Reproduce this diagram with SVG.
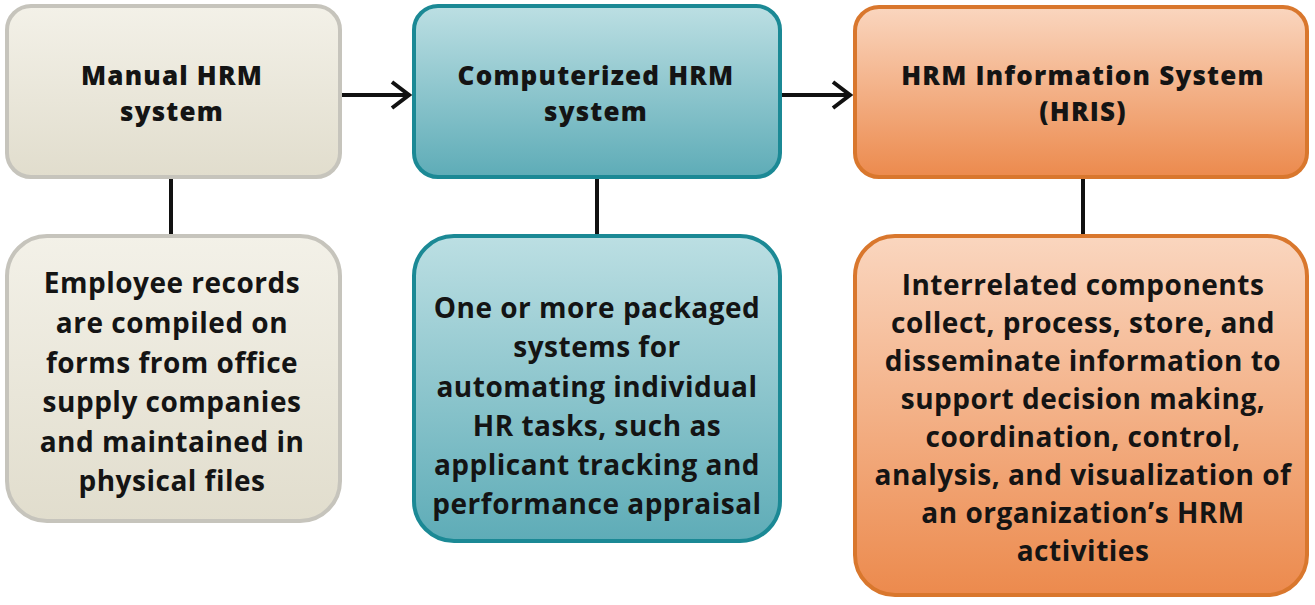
<svg xmlns="http://www.w3.org/2000/svg" width="1315" height="605" viewBox="0 0 1315 605">
<defs>
<linearGradient id="gBeige" x1="0" y1="0" x2="0" y2="1"><stop offset="0" stop-color="#f3f1e8"/><stop offset="1" stop-color="#e1ddcd"/></linearGradient>
<linearGradient id="gTeal" x1="0" y1="0" x2="0" y2="1"><stop offset="0" stop-color="#bcdfe3"/><stop offset="1" stop-color="#5eacb7"/></linearGradient>
<linearGradient id="gOrange" x1="0" y1="0" x2="0" y2="1"><stop offset="0" stop-color="#fad6bf"/><stop offset="1" stop-color="#ec8a4d"/></linearGradient>
<marker id="arrow" viewBox="0 0 22 30" refX="19" refY="15" markerWidth="22" markerHeight="30" markerUnits="userSpaceOnUse" orient="auto">
<path d="M2,2 L19,15 L2,28" fill="none" stroke="#111" stroke-width="4" stroke-linejoin="miter"/>
</marker>
</defs>
<style>
.beige{fill:url(#gBeige);stroke:#c6c4bc;stroke-width:4}
.teal{fill:url(#gTeal);stroke:#1b8995;stroke-width:4}
.orange{fill:url(#gOrange);stroke:#d9772d;stroke-width:4}
text{font-family:"Open Sans","Liberation Sans",sans-serif;font-weight:700;fill:#141414;text-anchor:middle;font-size:28px;letter-spacing:0.5px}
text.h{font-size:26px;font-weight:800;letter-spacing:1.2px}
.conn{stroke:#111;stroke-width:4;fill:none}
</style>
<g id="connectors">
<line class="conn" x1="342" y1="95" x2="409" y2="95" marker-end="url(#arrow)"/>
<line class="conn" x1="782" y1="95" x2="850" y2="95" marker-end="url(#arrow)"/>
<line class="conn" x1="171" y1="178" x2="171" y2="235"/>
<line class="conn" x1="597" y1="178" x2="597" y2="235"/>
<line class="conn" x1="1083" y1="178" x2="1083" y2="235"/>
</g>
<g id="manual">
<rect class="beige" x="7" y="6" width="333" height="171" rx="24"/>
<text class="h" x="172" y="85"><tspan x="172">Manual HRM</tspan><tspan x="172" dy="35.5">system</tspan></text>
</g>
<g id="computerized">
<rect class="teal" x="414" y="6" width="366" height="171" rx="24"/>
<text class="h" x="596" y="85"><tspan x="596">Computerized HRM</tspan><tspan x="596" dy="35.5">system</tspan></text>
</g>
<g id="hris">
<rect class="orange" x="855" y="7" width="452" height="170" rx="24"/>
<text class="h" x="1083" y="85"><tspan x="1083">HRM Information System</tspan><tspan x="1083" dy="35.5">(HRIS)</tspan></text>
</g>
<g id="manual-desc">
<rect class="beige" x="7" y="236" width="333" height="285" rx="40"/>
<text x="172" y="293"><tspan x="172">Employee records</tspan><tspan x="172" dy="40">are compiled on</tspan><tspan x="172" dy="39.5">forms from office</tspan><tspan x="172" dy="39.5">supply companies</tspan><tspan x="172" dy="39.5">and maintained in</tspan><tspan x="172" dy="39.5">physical files</tspan></text>
</g>
<g id="computerized-desc">
<rect class="teal" x="414" y="236" width="366" height="305" rx="40"/>
<text x="597" y="318"><tspan x="597">One or more packaged</tspan><tspan x="597" dy="39">systems for</tspan><tspan x="597" dy="39.5">automating individual</tspan><tspan x="597" dy="39">HR tasks, such as</tspan><tspan x="597" dy="39">applicant tracking and</tspan><tspan x="597" dy="39">performance appraisal</tspan></text>
</g>
<g id="hris-desc">
<rect class="orange" x="855" y="236" width="452" height="359" rx="40"/>
<text x="1083" y="295"><tspan x="1083">Interrelated components</tspan><tspan x="1083" dy="38">collect, process, store, and</tspan><tspan x="1083" dy="38">disseminate information to</tspan><tspan x="1083" dy="38">support decision making,</tspan><tspan x="1083" dy="38">coordination, control,</tspan><tspan x="1083" dy="38">analysis, and visualization of</tspan><tspan x="1083" dy="38">an organization’s HRM</tspan><tspan x="1083" dy="38">activities</tspan></text>
</g>
</svg>
